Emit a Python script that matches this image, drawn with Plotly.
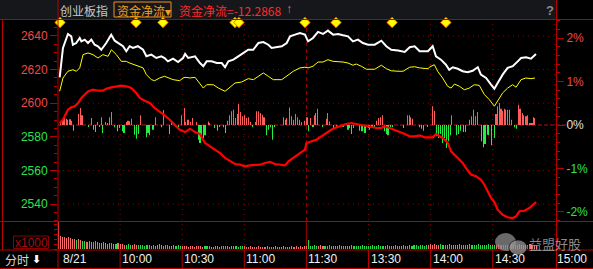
import plotly.graph_objects as go

# ---------------- data ----------------
prev_close = 2587.0
flow_value_text = "-12.2868"

# index price (white), minutes after 9:30 (trading minutes, 11:30 == 13:00 == 120)
price_t = [0.8, 2.4, 4.8, 6.4, 7.2, 8.8, 10.5, 11.3, 12.9, 14.5,
           16.1, 17.7, 19.3, 20.9, 23.3, 25.7, 27.4, 29.0, 31.4, 33.0,
           34.6, 36.2, 38.6, 41.1, 42.7, 45.1, 47.5, 49.9, 51.5, 53.1,
           55.6, 58.0, 60.4, 61.4, 62.9, 66.2, 68.6, 70.2, 71.8, 74.2,
           76.7, 79.1, 80.7, 82.3, 84.7, 87.1, 89.5, 91.9, 94.3, 96.8,
           99.2, 101.6, 103.2, 105.6, 108.1, 110.5, 112.1, 114.5, 116.9, 119.3,
           120.8, 123.2, 125.6, 128.0, 130.4, 132.9, 135.3, 137.7, 140.1, 142.5,
           144.9, 147.3, 149.8, 153.0, 156.2, 158.6, 161.0, 164.3, 167.5, 169.9,
           172.3, 174.7, 178.7, 179.4, 181.0, 182.6, 185.0, 187.4, 189.0, 190.7,
           193.1, 195.5, 197.9, 200.3, 202.8, 204.3, 206.8, 209.2, 210.8, 212.4,
           214.8, 217.2, 219.7, 222.1, 223.7, 226.1, 228.5, 230.9]
price = [2615.4, 2632.9, 2641.2, 2639.8, 2634.8, 2635.8, 2638.8, 2636.8, 2637.8, 2635.8,
         2637.8, 2634.8, 2633.9, 2631.8, 2635.8, 2640.8, 2637.2, 2635.8, 2633.9, 2630.9,
         2633.9, 2632.9, 2633.9, 2631.8, 2627.9, 2628.9, 2626.9, 2627.9, 2626.9, 2624.9,
         2626.5, 2624.5, 2626.9, 2629.3, 2626.9, 2627.9, 2623.9, 2622.0, 2624.9, 2624.9,
         2623.9, 2623.9, 2621.4, 2624.9, 2625.9, 2627.9, 2629.9, 2631.8, 2631.8, 2635.8,
         2636.4, 2634.8, 2632.9, 2633.3, 2633.9, 2635.8, 2639.8, 2640.8, 2641.8, 2640.8,
         2636.8, 2638.8, 2642.4, 2641.2, 2643.2, 2640.8, 2641.2, 2640.4, 2639.8, 2636.8,
         2637.8, 2635.8, 2634.8, 2634.8, 2637.2, 2633.9, 2631.8, 2631.3, 2630.5, 2633.3,
         2633.9, 2630.9, 2630.9, 2631.8, 2633.9, 2627.9, 2625.9, 2622.9, 2619.9, 2621.4,
         2620.5, 2619.0, 2618.4, 2619.3, 2621.4, 2617.0, 2615.0, 2611.0, 2608.6, 2612.0,
         2617.0, 2621.0, 2622.0, 2624.9, 2626.9, 2627.3, 2626.5, 2629.3]

# average price (yellow)
avg_t = [0.8, 2.4, 4.8, 7.2, 8.9, 10.5, 12.1, 14.5, 16.9, 19.3,
         21.7, 24.2, 25.8, 28.2, 30.6, 33.0, 34.6, 38.6, 41.1, 42.7,
         45.1, 46.7, 49.1, 51.5, 55.6, 58.8, 60.4, 61.4, 63.8, 66.2,
         67.8, 70.2, 71.8, 75.0, 77.5, 80.7, 83.1, 85.5, 88.7, 91.9,
         94.4, 96.8, 99.2, 101.6, 104.0, 108.1, 110.5, 113.7, 116.9, 119.3,
         120.8, 123.2, 125.6, 128.0, 130.4, 132.9, 137.7, 140.1, 142.5, 144.1,
         146.5, 149.0, 153.0, 156.2, 158.6, 161.0, 164.3, 166.7, 169.9, 172.3,
         174.7, 178.8, 179.4, 181.8, 183.4, 185.8, 188.2, 189.9, 191.5, 193.9,
         196.3, 198.7, 201.1, 203.5, 206.0, 208.4, 210.8, 212.4, 214.8, 217.2,
         219.6, 221.3, 223.7, 226.1, 228.5, 230.4]
avg_price = [2607.1, 2615.0, 2619.0, 2619.9, 2619.0, 2621.0, 2628.9, 2629.9, 2628.9, 2626.9,
             2628.9, 2627.9, 2631.8, 2628.9, 2624.9, 2624.9, 2623.9, 2622.0, 2621.0, 2617.0,
             2614.0, 2613.4, 2615.0, 2616.0, 2614.0, 2613.4, 2615.0, 2615.4, 2615.0, 2615.4,
             2613.0, 2609.0, 2611.0, 2611.0, 2609.0, 2607.1, 2609.5, 2612.0, 2612.6, 2614.6,
             2614.0, 2616.0, 2618.0, 2616.0, 2614.0, 2614.0, 2616.0, 2619.0, 2621.0, 2621.4,
             2621.0, 2622.0, 2624.5, 2624.5, 2625.9, 2624.9, 2624.5, 2623.9, 2622.6, 2623.3,
             2622.0, 2620.2, 2620.2, 2622.6, 2620.5, 2619.3, 2619.0, 2619.0, 2621.4, 2621.7,
             2621.0, 2620.5, 2621.4, 2622.9, 2619.0, 2615.0, 2610.1, 2609.0, 2611.4, 2610.1,
             2608.0, 2609.0, 2611.0, 2610.6, 2605.1, 2602.1, 2598.2, 2601.5, 2606.1, 2609.0,
             2611.0, 2609.5, 2614.0, 2615.0, 2614.6, 2615.0]

# net fund flow line (red), 亿
flow_t = [0.8, 2.4, 4.8, 6.4, 8.1, 9.7, 11.3, 12.9, 14.5, 16.9,
          19.3, 21.7, 23.3, 25.7, 28.2, 30.6, 33.0, 35.4, 37.8, 39.5,
          41.9, 44.3, 46.7, 49.1, 51.5, 54.0, 56.4, 58.8, 61.4, 63.8,
          66.2, 68.6, 71.0, 73.4, 75.8, 78.3, 80.7, 83.1, 85.5, 87.9,
          90.3, 92.7, 95.2, 97.6, 100.0, 102.4, 104.8, 107.2, 109.7, 111.3,
          113.7, 116.1, 119.3, 120.0, 122.4, 124.8, 127.2, 129.6, 132.0, 134.5,
          136.9, 139.3, 141.7, 144.1, 146.5, 148.9, 151.4, 153.8, 156.2, 157.8,
          160.2, 162.7, 165.1, 167.5, 169.9, 172.3, 174.7, 177.1, 181.0, 182.6,
          184.2, 185.8, 188.3, 189.9, 192.3, 193.9, 195.5, 197.1, 199.5, 201.9,
          204.3, 206.0, 207.6, 209.2, 210.8, 212.4, 214.8, 217.2, 219.7, 221.3,
          222.9, 225.3, 227.7, 230.9]
flow = [0.32, 0.85, 2.44, 2.82, 2.98, 3.51, 4.31, 4.83, 5.37, 5.63,
        5.47, 5.47, 5.79, 6.01, 6.17, 6.27, 6.17, 5.90, 5.10, 4.31,
        3.88, 3.51, 2.71, 2.18, 1.55, 0.85, 0.05, -0.75, -1.12, -0.59,
        -1.12, -1.44, -2.87, -3.40, -3.94, -4.47, -5.26, -5.79, -6.22, -6.33,
        -6.59, -6.43, -6.33, -6.33, -6.06, -5.90, -6.22, -6.33, -6.43, -5.79,
        -5.26, -4.63, -3.94, -2.87, -2.61, -2.34, -1.80, -1.28, -0.75, -0.37,
        -0.05, 0.16, 0.32, 0.16, -0.05, -0.21, -0.37, -0.48, -0.48, -0.21,
        -0.48, -0.75, -1.12, -1.44, -1.80, -1.80, -1.64, -1.96, -1.96, -1.44,
        -1.80, -2.07, -2.87, -4.20, -5.00, -5.53, -6.06, -6.86, -7.92, -8.18,
        -8.72, -9.52, -10.57, -11.64, -12.28, -13.51, -14.31, -14.72, -14.83, -14.56,
        -13.76, -13.67, -13.24, -12.2868]

# per-minute fund flow bars (red up / green down)
flow_bar_t = [1.3, 2.1, 2.9, 3.9, 4.8, 5.8, 6.6, 7.7, 10.0, 10.8,
              11.6, 14.8, 16.1, 17.2, 18.0, 19.0, 20.0, 20.9, 21.7, 22.9,
              23.8, 25.0, 25.8, 27.4, 28.7, 29.5, 31.1, 31.9, 33.0, 33.8,
              34.6, 35.4, 37.0, 38.0, 38.8, 39.9, 42.7, 43.5, 44.3, 45.9,
              47.0, 49.9, 50.9, 53.9, 54.8, 56.7, 58.0,
              59.7, 60.9, 61.8, 62.8, 63.8, 64.9, 67.0, 67.8, 68.6, 69.4,
              70.2, 71.0, 72.6, 73.4, 75.8, 77.0, 77.9, 79.9, 81.0, 82.0,
              82.9, 83.8, 84.7, 85.6, 86.5, 87.4, 88.3, 89.2, 90.0, 90.9,
              91.9, 92.8, 93.9, 95.2, 96.0, 96.9, 97.8, 98.6, 99.5, 100.8,
              101.6, 102.7, 103.5, 104.8, 108.9, 109.7, 110.5, 111.8, 112.9, 113.7,
              114.7, 115.6, 116.6, 117.7,
              119.2, 120.3, 120.8, 121.9, 123.2, 123.7, 124.5, 125.4, 127.7, 129.6,
              130.4, 131.2, 132.9, 134.5, 136.4, 137.7, 140.1, 140.9, 141.7, 142.8,
              145.7, 146.5, 147.3, 148.3, 149.8, 150.6, 151.7, 152.7, 153.8, 154.8,
              155.7, 156.7, 157.6, 158.6, 159.4, 160.6, 161.8, 166.7, 168.8, 169.6,
              170.4, 171.2, 174.7, 175.5, 176.7,
              178.6, 180.7, 181.8, 183.0, 183.9, 184.9, 185.8, 186.8, 187.8, 188.6,
              189.4, 190.3, 192.6, 193.4, 194.4, 195.8, 196.8, 198.7, 199.7, 200.6,
              201.6, 202.7, 204.7, 205.5, 206.3, 207.3, 208.1, 209.3, 210.8, 211.6,
              212.4, 213.2, 214.0, 214.8, 215.6, 216.4, 217.2, 218.0, 219.3, 220.4,
              221.3, 222.4, 223.2, 224.2, 225.0, 226.1, 226.9, 228.0, 229.0, 229.6,
              230.4]
flow_bar_v = [0.59, 0.85, 1.12, 1.0, 0.85, 0.9, 0.7, -0.90, 1.75, 2.71,
              1.54, -0.21, 1.12, -0.74, -1.12, 0.48, -0.32, 1.22, -1.28, 0.48,
              0.32, 1.22, 2.07, -0.37, -1.0, -0.48, -1.0, -1.28, 0.48, 0.69,
              0.59, 1.0, -1.54, -2.18, -1.44, 1.54, -1.97, -1.28, -1.65, -0.74,
              1.22, -0.37, 2.39, -1.44, 0.69, -0.21, -0.37,
              1.54, 2.71, 0.48, 0.85, 0.48, 1.12, 0.48, -2.34, -2.87, -1.54,
              -2.07, -1.65, 0.58, 0.32, -0.48, -0.90, -0.21, -0.37, -1.28, 0.69,
              1.54, 2.18, 2.45, 1.12, 1.75, 3.35, 2.07, 1.38, 1.54, 1.12,
              1.22, 0.48, -0.37, 0.48, 2.18, 2.18, 1.91, 1.65, 1.22, -1.65,
              -0.74, -0.37, -2.34, -0.21, 1.22, 0.85, 1.12, 2.81, 1.38, 0.85,
              1.75, 1.22, 0.85, 0.48,
              0.69, 1.22, -1.01, 1.12, -0.21, 1.54, 1.91, 2.60, -0.21, 1.01,
              1.91, 0.58, -0.48, -0.48, -0.21, -0.21, -0.74, -0.48, -1.44, -0.48,
              -0.90, -1.01, -1.01, -1.28, -0.48, -0.74, -0.48, -0.37, 0.69, 1.12,
              1.22, 1.54, -1.01, -1.44, -1.65, -0.37, -0.37, -0.48, 1.54, 1.54,
              1.22, 1.01, -0.37, -0.58, -0.90,
              -0.21, 2.98, 2.29, -1.81, -2.07, -1.44, -2.87, -2.07, -3.67, -2.60,
              -1.65, 1.54, -1.65, -1.44, -0.90, -1.12, -1.12, 0.85, 1.38, 2.45,
              1.38, 2.07, -2.60, -3.56, -3.03, -1.54, -1.65, -3.24, -2.07, 1.75,
              2.98, 3.51, 2.60, 2.29, 2.60, 2.45, 2.45, 2.45, 0.85, -0.37,
              -0.58, 3.24, 2.60, 1.91, 1.54, 1.38, 1.54, 0.32, 0.32, 1.22,
              1.12]

# volume per minute (x1000)
volume = [27,
          13, 12, 12, 11, 12, 11, 10, 10, 9, 10,
          9, 8, 8, 7, 8, 7, 7, 8, 7, 6,
          6, 7, 6, 5, 6, 6, 5, 5, 6, 5,
          5, 4, 4, 5, 4, 4, 5, 4, 4, 4,
          4, 3, 4, 4, 3, 4, 3, 4, 5, 4, 3, 4, 4, 3, 3, 4, 3, 4, 3, 3,
          3, 3, 2, 3, 3, 2, 3, 3, 3, 2, 3, 3, 3, 2, 2, 3, 3, 2, 3, 3, 3, 3, 2, 3, 3, 3, 2, 3, 3, 3,
          2, 2, 3, 2, 2, 2, 3, 2, 2, 2, 3, 2, 2, 2, 3, 2, 2, 2, 3, 2, 2, 2, 3, 2, 3, 2, 3, 2, 3, 3,
          9,
          3, 3, 4, 3, 3, 4, 3, 3, 3, 4, 3, 3, 3, 3, 4, 3, 3, 3, 3, 3, 4, 3, 3, 3, 3, 4, 3, 3, 3,
          3, 4, 3, 3, 4, 3, 3, 3, 4, 3, 3, 3, 4, 3, 3, 3, 4, 3, 3, 4, 3, 4, 4, 3, 4, 4, 3, 4, 4, 5,
          4, 5, 4, 4, 5, 4, 4, 4, 5, 4, 4, 4, 4, 5, 4, 4, 4, 4, 5, 4, 4, 4, 5, 4, 4, 4, 4, 5, 4, 4,
          4, 4, 5, 4, 4, 4, 4, 4, 5, 4, 4, 4, 5, 4, 4, 4, 4, 5, 4, 4, 4]
# minute ranges whose volume bar is red (price up); others green
volume_up_ranges = [(0, 8), (10, 11), (14, 16), (20, 25), (29, 32), (36, 38), (47, 52),
                    (60, 70), (74, 77), (82, 85), (90, 120), (126, 128), (132, 134),
                    (179, 184), (212, 231)]

# signal diamonds along the top
signal_t = [1.0, 37.7, 50.7, 85.5, 87.4, 119.3, 134.3, 161.4, 187.4]

time_labels = ["8/21", "10:00", "10:30", "11:00", "11:30", "13:30", "14:00", "14:30", "15:00"]
time_label_pos = [0, 30, 60, 90, 120, 150, 180, 210, 240]
price_ticks = [2540, 2560, 2580, 2600, 2620, 2640]
pct_ticks = [-2, -1, 0, 1, 2]

# ---------------- layout geometry ----------------
W, H = 593, 269
X0, X1 = 58, 556           # plot area, px
Y_TOP, Y_MAIN_BOT = 19, 221
Y_VOL_TOP, Y_VOL_BOT = 221.5, 249
PRICE_RANGE = [2529.9, 2650.1]
FLOW_RANGE = [-15.31, 16.91]
X_RANGE = [0, 240.58]
VOL_RANGE = [0, 27.5]

RED_AX = "#b80000"
GRID = "#8a0000"
UP = "#f04848"
DOWN = "#30e050"
NUM_FONT = "Liberation Sans, Arial, sans-serif"
CJK_FONT = "Noto Sans CJK SC, sans-serif"
BAR_W = 0.05   # very thin: plotly widens sub-pixel bars to exactly one device pixel


def px(x):
    return x / W


def py(y):
    return 1 - y / H


fig = go.Figure()

# per-minute flow bars
fig.add_trace(go.Bar(
    x=flow_bar_t, y=flow_bar_v, yaxis="y2", width=BAR_W,
    marker=dict(color=["#ff5c5c" if v > 0 else "#22ee44" for v in flow_bar_v], line=dict(width=0)),
    hoverinfo="skip"))

# volume bars
vol_x = list(range(len(volume)))
vol_colors = []
for m in vol_x:
    up = any(a <= m <= b for a, b in volume_up_ranges)
    vol_colors.append("#ff6a6a" if up else "#22dd44")
fig.add_trace(go.Bar(
    x=vol_x, y=volume, yaxis="y3", width=BAR_W,
    marker=dict(color=vol_colors, line=dict(width=0)), hoverinfo="skip"))

# average price
fig.add_trace(go.Scatter(x=avg_t, y=avg_price, mode="lines",
                         line=dict(color="#ffff00", width=1), hoverinfo="skip"))
# index price
fig.add_trace(go.Scatter(x=price_t, y=price, mode="lines",
                         line=dict(color="#ffffff", width=2), hoverinfo="skip"))
# fund flow line
fig.add_trace(go.Scatter(x=flow_t, y=flow, yaxis="y2", mode="lines",
                         line=dict(color="#ff0000", width=2.2), hoverinfo="skip"))
# signal diamonds
px_per_unit = (Y_MAIN_BOT - Y_TOP) / (PRICE_RANGE[1] - PRICE_RANGE[0])
diamond_y = PRICE_RANGE[1] - (22.5 - Y_TOP) / px_per_unit
fig.add_trace(go.Scatter(x=signal_t, y=[diamond_y] * len(signal_t), mode="markers",
                         marker=dict(symbol="diamond", size=8, color="#ffff00",
                                     line=dict(color="#ff5a00", width=1)),
                         hoverinfo="skip", cliponaxis=False))

# ---------------- axes ----------------
price_text = ['<span style="color:%s">%d</span>' % (UP if v > prev_close else DOWN, v) for v in price_ticks]
pct_text = []
for v in pct_ticks:
    c = UP if v > 0 else (DOWN if v < 0 else "#e0e0e0")
    pct_text.append('<span style="color:%s">%d%%</span>' % (c, v))
pct_range = [(PRICE_RANGE[0] / prev_close - 1) * 100, (PRICE_RANGE[1] / prev_close - 1) * 100]

fig.update_layout(
    width=W, height=H, autosize=False,
    margin=dict(l=0, r=0, t=0, b=0, pad=0),
    paper_bgcolor="#000000", plot_bgcolor="rgba(0,0,0,0)",
    showlegend=False, barmode="overlay",
    font=dict(family=NUM_FONT, size=12, color="#e0e0e0"),
    xaxis=dict(domain=[px(X0), px(X1)], range=X_RANGE, visible=False, fixedrange=True),
    yaxis=dict(domain=[py(Y_MAIN_BOT), py(Y_TOP)], range=PRICE_RANGE, anchor="x",
               tickmode="array", tickvals=price_ticks, ticktext=price_text,
               ticks="outside", ticklen=7, tickwidth=1, tickcolor=RED_AX,
               showgrid=False, zeroline=False, showline=False,
               tickfont=dict(family=NUM_FONT, size=12),
               minor=dict(ticks="outside", ticklen=3, tickcolor=RED_AX, tickwidth=1,
                          dtick=5, tick0=2530, showgrid=False)),
    yaxis2=dict(overlaying="y", range=FLOW_RANGE, visible=False, anchor="x"),
    yaxis3=dict(domain=[py(Y_VOL_BOT), py(Y_VOL_TOP)], range=VOL_RANGE, anchor="x",
                showticklabels=False, ticks="outside", ticklen=3, tickcolor=RED_AX,
                dtick=5, showgrid=False, zeroline=False, showline=False),
    yaxis4=dict(overlaying="y", side="right", anchor="x", range=pct_range,
                tickmode="array", tickvals=pct_ticks, ticktext=pct_text,
                ticks="outside", ticklen=7, tickwidth=1, tickcolor=RED_AX,
                showgrid=False, zeroline=False, showline=False,
                tickfont=dict(family=NUM_FONT, size=12),
                minor=dict(ticks="outside", ticklen=3, tickcolor=RED_AX, tickwidth=1,
                           dtick=0.2, tick0=0, showgrid=False)),
)
# dummy trace to activate the percent axis
fig.add_trace(go.Scatter(x=[None], y=[None], yaxis="y4", hoverinfo="skip"))

# ---------------- shapes ----------------
shapes = []
# header background
shapes.append(dict(type="rect", xref="paper", yref="paper", x0=px(0), x1=px(X1), y0=py(19), y1=py(0),
                   fillcolor="#15171b", line=dict(width=0), layer="below"))
# horizontal price grid
for v in price_ticks:
    shapes.append(dict(type="line", xref="paper", yref="y", x0=px(X0), x1=px(X1), y0=v, y1=v,
                       line=dict(color=GRID, width=1, dash="1px,4px"), layer="below"))
# 0% reference line
shapes.append(dict(type="line", xref="paper", yref="y", x0=px(X0), x1=px(566), y0=prev_close, y1=prev_close,
                   line=dict(color="#c01010", width=1, dash="4px,2px"), layer="below"))
# vertical time grid
for m in time_label_pos[1:]:
    if m == 120:
        shapes.append(dict(type="line", xref="x", yref="paper", x0=m, x1=m, y0=py(Y_MAIN_BOT), y1=py(Y_TOP),
                           line=dict(color="#a00000", width=1, dash="4px,3px"), layer="below"))
        shapes.append(dict(type="line", xref="x", yref="paper", x0=m, x1=m, y0=py(250), y1=py(Y_MAIN_BOT),
                           line=dict(color="#a00000", width=1), layer="below"))
    else:
        shapes.append(dict(type="line", xref="x", yref="paper", x0=m, x1=m, y0=py(250), y1=py(Y_TOP),
                           line=dict(color=GRID, width=1, dash="1px,4px"), layer="below"))
    if m < 240:
        shapes.append(dict(type="line", xref="x", yref="paper", x0=m, x1=m, y0=py(269), y1=py(250),
                           line=dict(color=RED_AX, width=1), layer="above"))
# frame lines
for yy in (19.5, 221.5, 250, 268.5):
    shapes.append(dict(type="line", xref="paper", yref="paper", x0=0, x1=1, y0=py(yy), y1=py(yy),
                       line=dict(color=RED_AX, width=1), layer="above"))
for xx, ya, yb in ((58, 0, 269), (2.5, 19, 250), (556.5, 0, 269)):
    shapes.append(dict(type="line", xref="paper", yref="paper", x0=px(xx), x1=px(xx), y0=py(yb), y1=py(ya),
                       line=dict(color=RED_AX, width=1), layer="above"))
# orange selector box in header
shapes.append(dict(type="rect", xref="paper", yref="paper", x0=px(114), x1=px(171), y0=py(17), y1=py(2),
                   line=dict(color="#f09020", width=1), fillcolor="rgba(0,0,0,0)", layer="above"))
# x1000 box
shapes.append(dict(type="rect", xref="paper", yref="paper", x0=px(13.5), x1=px(48.5), y0=py(248.5), y1=py(236),
                   line=dict(color="#8a0000", width=1), fillcolor="rgba(0,0,0,0)", layer="above"))
# watermark bubbles
shapes.append(dict(type="circle", xref="paper", yref="paper", x0=px(495), x1=px(516), y0=py(251), y1=py(233),
                   fillcolor="rgba(140,140,140,0.75)", line=dict(width=0), layer="above"))
shapes.append(dict(type="circle", xref="paper", yref="paper", x0=px(509), x1=px(527), y0=py(255), y1=py(240),
                   fillcolor="rgba(150,150,150,0.75)", line=dict(color="rgba(0,0,0,0.6)", width=1), layer="above"))
fig.update_layout(shapes=shapes)

# ---------------- annotations ----------------
ann = []


def text(x, y, s, color, size=12, family=NUM_FONT, xanchor="left", xref="paper", xshift=0):
    ann.append(dict(x=x, y=y, xref=xref, yref="paper", text=s, showarrow=False,
                    xanchor=xanchor, yanchor="middle", xshift=xshift,
                    font=dict(color=color, size=size, family=family)))


text(px(58), py(10), "创业板指", "#c8c8c8", 12, CJK_FONT)
text(px(115), py(10), "资金净流▾", "#f0a020", 12, CJK_FONT)
text(px(177), py(10), "资金净流=" + flow_value_text, "#ff2a2a", 12, CJK_FONT)
text(px(284), py(9), "↑", "#ff6060", 12, NUM_FONT)
text(px(544), py(10), "<b>?</b>", "#8a8a8a", 13, NUM_FONT)
text(px(13), py(242.5), "x1000", "#a01010", 12, NUM_FONT)
text(px(3), py(259), "分时", "#d8d8d8", 12, CJK_FONT)
text(px(30), py(259), "<b>⬇</b>", "#ffffff", 11, "DejaVu Sans")
for lab, pos in zip(time_labels, time_label_pos):
    text(pos, py(259), lab, "#f0f0f0", 12, NUM_FONT, xref="x", xshift=3 if pos == 0 else 0)
text(px(527), py(243), "益盟好股", "rgba(165,165,165,0.85)", 13, CJK_FONT)
fig.update_layout(annotations=ann)

fig.write_html("out.html")
